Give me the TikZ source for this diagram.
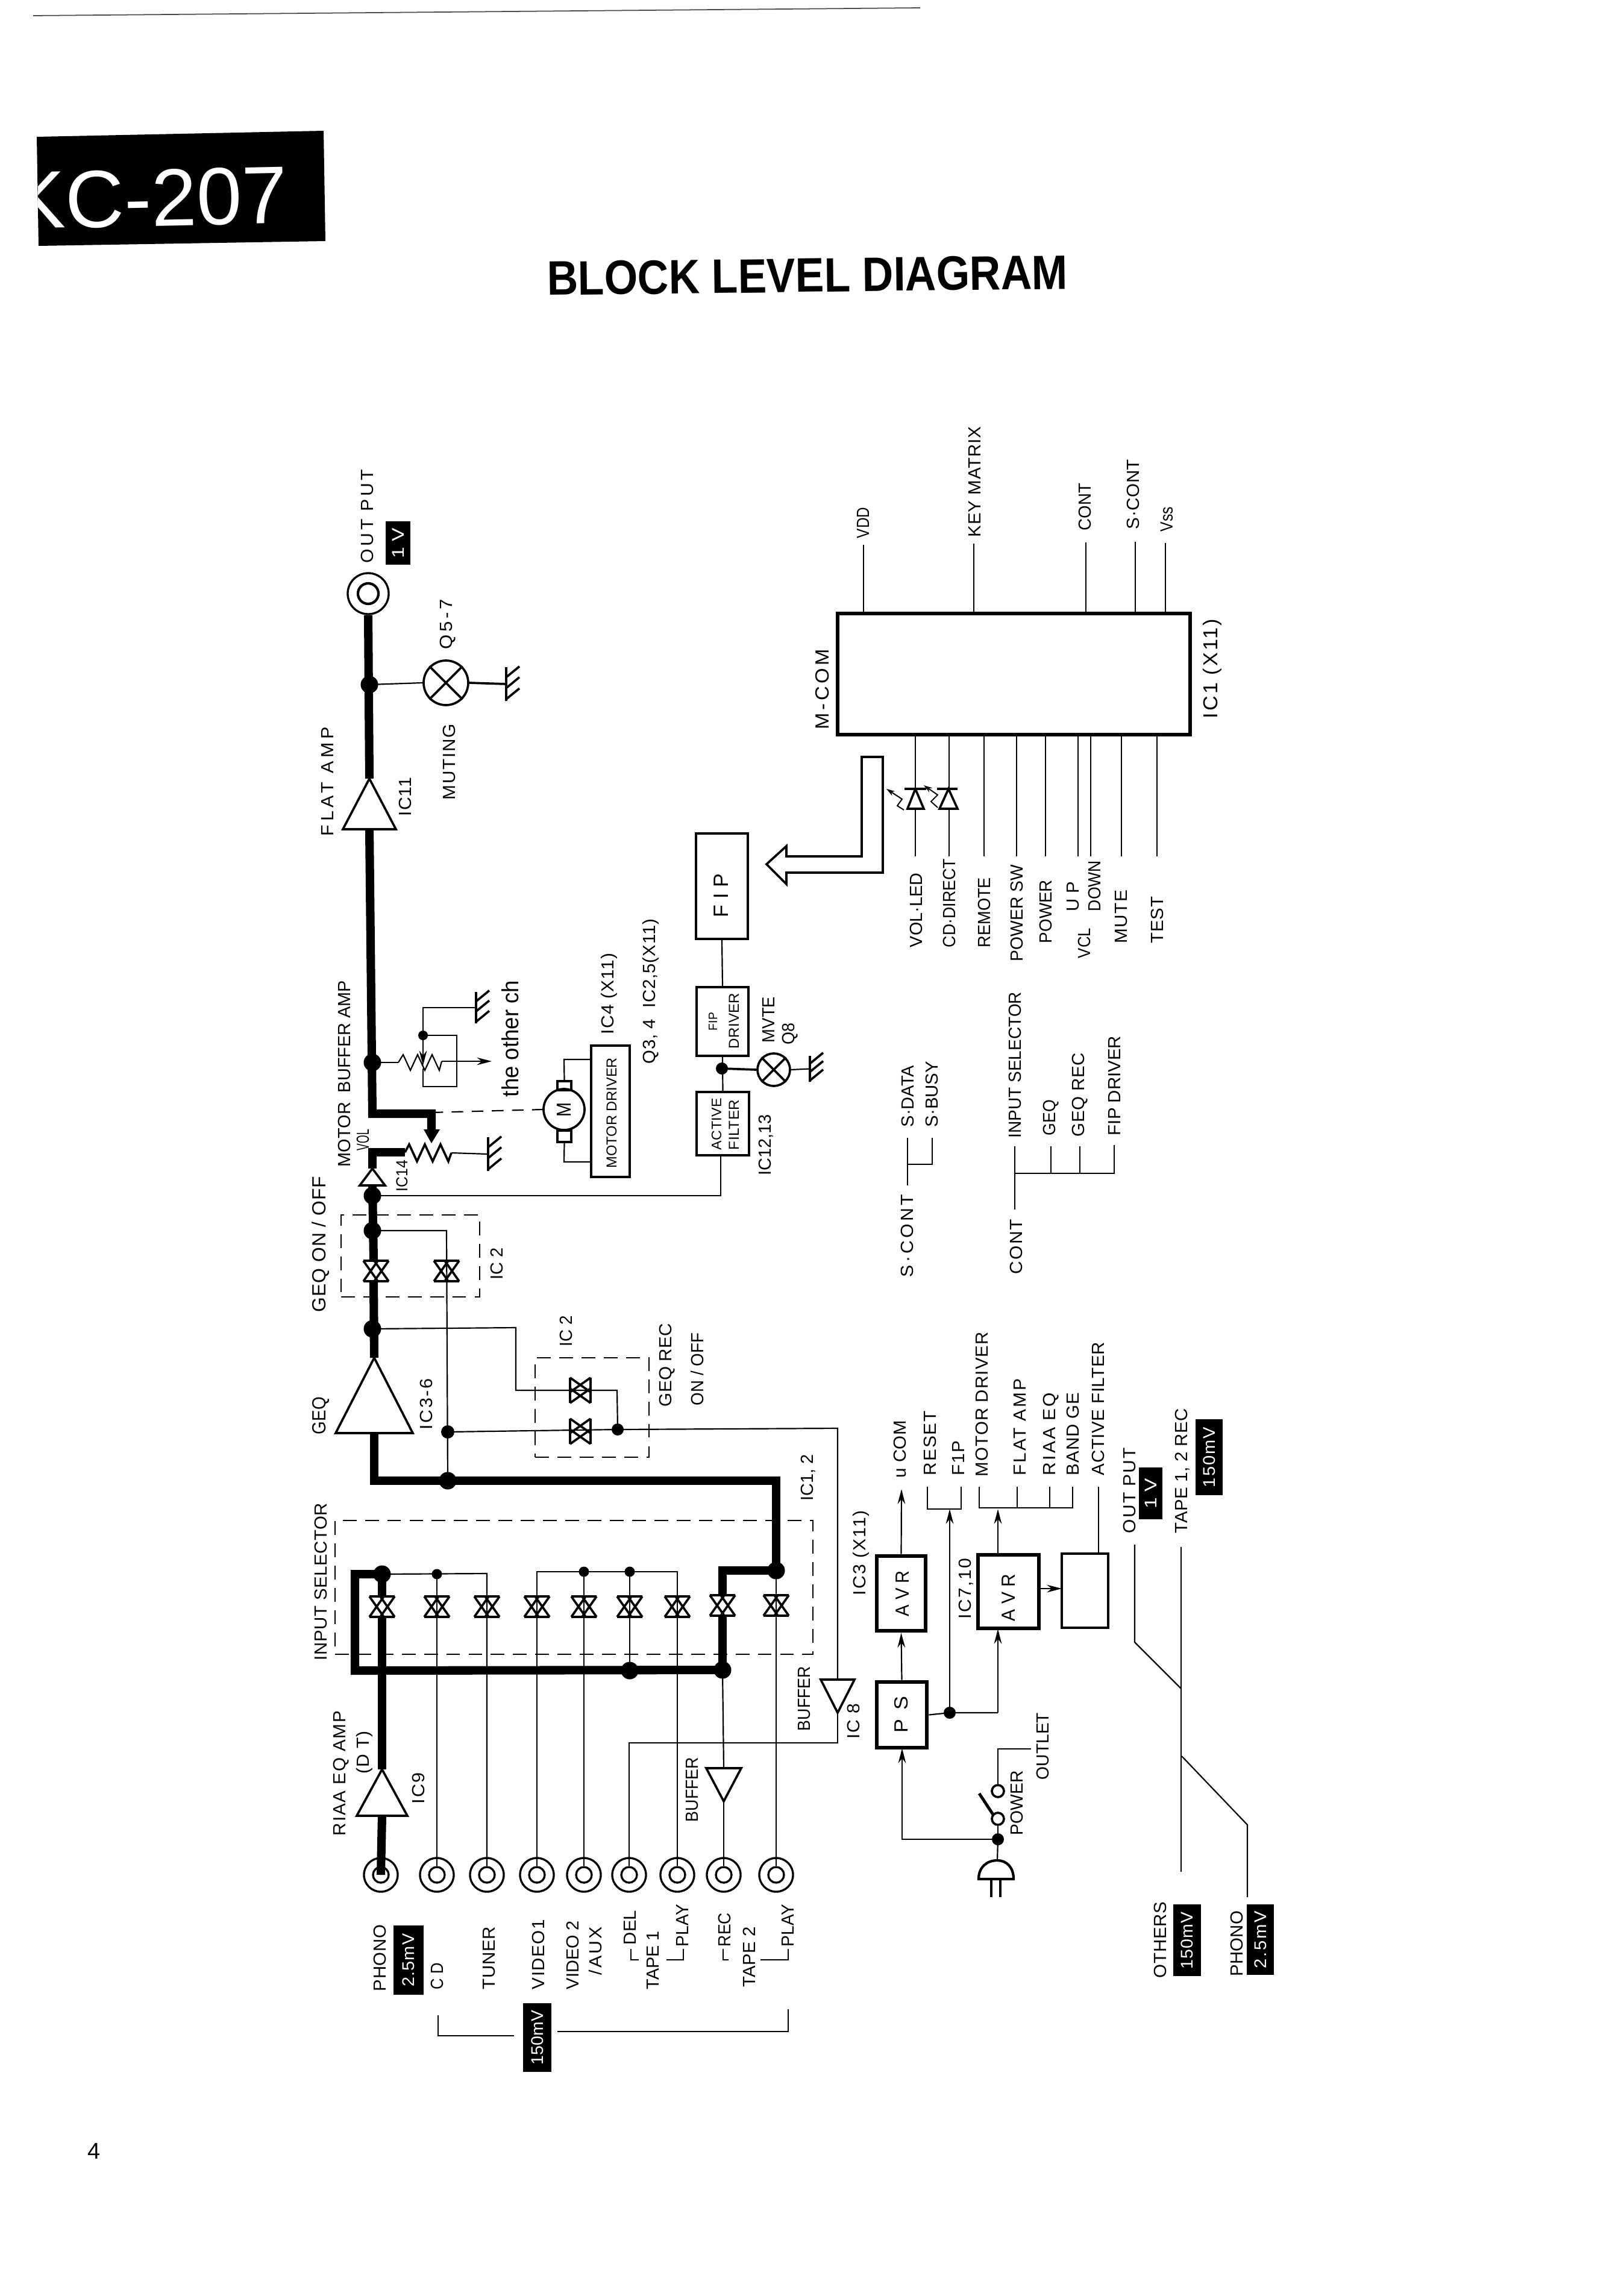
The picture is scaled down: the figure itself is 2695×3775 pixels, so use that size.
\documentclass[tikz,border=0pt]{standalone}
\usepackage{fontspec}
\setmainfont{Liberation Sans}
\usepackage{graphicx}
\usetikzlibrary{arrows.meta}
\newsavebox\fitbox
\newdimen\fitd
\newcount\chcnt
\def\countchars#1{\chcnt=0 \countloop#1\relax}
\def\countloop#1{\ifx#1\relax\else\advance\chcnt by 1 \expandafter\countloop\fi}
% text set to an exact length: tracked open when it is short, then scaled to fit
\newcommand\fittext[3]{\countchars{#3}%
 \sbox\fitbox{\fontsize{#1}{#1}\selectfont #3}\fitd=\wd\fitbox
 \pgfmathtruncatemacro\lsval{max(0,min(40,100*((#2)*0.28453-\fitd)/(\chcnt*#1)))}%
 \edef\lscmd{\noexpand\addfontfeature{LetterSpace=\lsval}}%
 \sbox\fitbox{\fontsize{#1}{#1}\selectfont\lscmd #3}\fitd=\wd\fitbox
 \pgfmathsetmacro\fitr{(#2)*0.28453/\fitd}\scalebox{\fitr}[1]{\usebox\fitbox}}
% rotated label of exact extent: [size]{name}{x}{ytop}{ybottom}{text}
\newcommand\lab[6][8.3]{\node[txt] (#2) at (#3,{(#4+#5)/2}) {\fittext{#1}{#5-#4}{#6}};}
% box: {name}{x0}{y0}{x1}{y1}{style}
\newcommand\bx[6]{\node[#6,minimum width={(#4-#2)*0.01cm},minimum height={(#5-#3)*0.01cm}] (#1) at ({(#2+#4)/2},{(#3+#5)/2}) {};}
% black level tag: {name}{x0}{y0}{x1}{y1}{text length}{text}
\newcommand\blk[7]{\node[rotate=90,fill=black,text=white,inner sep=0,minimum width={(#5-#3)*0.01cm},minimum height={(#4-#2)*0.01cm}] (#1) at ({(#2+#4)/2},{(#3+#5)/2}) {\fittext{8}{#6}{#7}};}
% amp triangle: {name}{x}{ybase}{yapex}{half width}
\newcommand\amp[5]{\coordinate (#1-in) at (#2,#3);\coordinate (#1-out) at (#2,#4);
 \draw[mid,fill=white,line join=miter] ({#2-#5},#3) -- ({#2+#5},#3) -- (#1-out) -- cycle;}
% jack
\newcommand\jack[3]{\node[jackout] (#1) at (#2,#3) {};\node[jackin] (#1-i) at (#2,#3) {};}
% transmission gate: {name}{x}{y}
\newcommand\sw[3]{\coordinate (#1-a) at (#2,{#3+19});\coordinate (#1-b) at (#2,{#3-19});\pic at (#2,#3) {tgate};}
\newcommand\lamp[4]{\node[circle,draw,mid,inner sep=0,minimum size={2*#4*0.01cm}] (#1) at (#2,#3) {};
 \draw[mid] (#1.45)--(#1.225) (#1.135)--(#1.315);}
\newcommand\gnd[4]{\coordinate (#1) at (#2,{(#3+#4)/2});
 \draw[mid] (#2,#3)--(#2,#4)
 (#2,{#3+0.3*(#4-#3)})--++(22,-18) (#2,{#3+0.62*(#4-#3)})--++(22,-18) (#2,{#3+0.95*(#4-#3)})--++(22,-18);}
\tikzset{
 txt/.style={rotate=90,inner sep=0,anchor=center},
 thinw/.style={line width=0.62pt},
 mid/.style={line width=1.05pt},
 bus/.style={line width=4pt,line join=miter},
 boxa/.style={draw,line width=1.15pt,inner sep=0},
 boxb/.style={draw,line width=1.9pt,inner sep=0},
 dashbox/.style={draw,line width=0.7pt,dash pattern=on 6.5pt off 4pt,inner sep=0},
 jackout/.style={circle,draw,line width=0.95pt,fill=white,inner sep=0,minimum size=0.56cm},
 jackin/.style={circle,draw,line width=0.95pt,inner sep=0,minimum size=0.26cm},
 bigdot/.style={circle,fill=black,inner sep=0,minimum size=0.29cm},
 smalldot/.style={circle,fill=black,inner sep=0,minimum size=0.17cm},
 arr/.style={thinw,-{Stealth[length=7pt,width=3.6pt]}},
 tgate/.pic={\draw[line width=1.05pt] (-21,-17)--(21,-17) (-21,17)--(21,17)
   (-21,-17)--(3,17) (3,-17)--(-21,17) (-3,-17)--(21,17) (21,-17)--(-3,17);}
}
\begin{document}
\begin{tikzpicture}[x=0.01cm,y=-0.01cm]
\useasboundingbox (0,0) rectangle (2695,3775);
% ---------- heading ----------
\coordinate (hA) at (55,26); \coordinate (hB) at (1527,13);
\draw[line width=0.5pt,black!70] (hA) -- (hB);
\fill[black] (61,227)--(537,217)--(540,400)--(64,408)--cycle;
\begin{scope}
 \clip (61,227)--(537,217)--(540,400)--(64,408)--cycle;
 \node[rotate=1.2,anchor=base west,inner sep=0,text=white,font=\fontsize{38.4}{40}\selectfont] (model) at (19,380) {KC-207};
\end{scope}
\node[rotate=0.7,inner sep=0,font=\fontsize{22.8}{24}\selectfont\bfseries] (title) at (1340,457) {\scalebox{0.89}[1]{BLOCK LEVEL DIAGRAM}};
\node[inner sep=0,font=\fontsize{10.8}{12}\selectfont] (page) at (156,3569) {4};
% ---------- junction coordinates ----------
\coordinate (J1) at (634,2612); \coordinate (J3) at (1199,2771); \coordinate (JB3) at (1045,2772);
\coordinate (J4) at (1288,2606); \coordinate (J5) at (743,2457); \coordinate (J6) at (743,2376);
\coordinate (J7) at (1025,2372); \coordinate (J8) at (618,2205); \coordinate (J9) at (618,2042);
\coordinate (J10) at (618,1984); \coordinate (J11) at (618,1763); \coordinate (J12) at (613,1136);
\coordinate (d2) at (725,2612); \coordinate (d5) at (969,2608); \coordinate (d6) at (1045,2608);
\coordinate (J13) at (1198,1773); \coordinate (J14) at (1576,2842); \coordinate (J15) at (1656,3052);
% ---------- thin signal lines ----------
\jack{j1}{632}{3111} \jack{j2}{725}{3111} \jack{j3}{808}{3111} \jack{j4}{891}{3111} \jack{j5}{969}{3111}
\jack{j6}{1044}{3111} \jack{j7}{1124}{3111} \jack{j8}{1201}{3111} \jack{j9}{1288}{3111}
\node[jackout,minimum size=0.68cm] (jO) at (611,985) {};
\node[jackin,minimum size=0.34cm,line width=1.2pt] (jO-i) at (611,985) {};
\amp{aB}{1390}{2787}{2842}{28}
\amp{aR}{1201}{2934}{2989}{29}
\draw[thinw] (j2-i.north) -- (d2);
\draw[thinw] (J1) -- (808,2611) -- (j3-i.north);
\draw[thinw] (j4-i.north) -- (891,2608) -- (1124,2608) -- (j7-i.north);
\draw[thinw] (j5-i.north) -- (d5);
\draw[thinw] (d6) -- (JB3);
\draw[thinw] (j6-i.north) -- (1044,2892) -- (1390,2892) -- (aB-out);
\draw[thinw] (aB-in) -- (1390,2370) -- (J7);
\draw[thinw] (j8-i.north) -- (aR-out);
\draw[thinw] (aR-in) -- (J3);
\draw[thinw] (j9-i.north) -- (J4);
\draw[thinw] (J9) -- (741,2042) -- (J5);
\draw[thinw] (J6) -- (J7) -- (1024,2307) -- (856,2307) -- (856,2203) -- (J8);
\draw[thinw] (J10) -- (1196,1984) -- (1196,1917);
% ---------- amplifiers and switches ----------
\amp{aP}{634}{3013}{2936}{42}
\amp{aG}{621}{2378}{2253}{64}
\amp{aT}{618}{1967}{1939}{21}
\amp{aF}{613}{1376}{1292}{44}
\sw{s1}{634}{2666} \sw{s2}{725}{2666} \sw{s3}{808}{2666} \sw{s4}{891}{2666} \sw{s5}{969}{2666}
\sw{s6}{1045}{2666} \sw{s7}{1124}{2666} \sw{s8}{1199}{2664} \sw{s9}{1288}{2664}
\sw{s10}{624}{2109} \sw{s11}{741}{2109}
\pic[rotate=90] at (963,2307) {tgate};
\pic[rotate=90] at (963,2375) {tgate};
% ---------- thick main path ----------
\draw[bus] (j1-i.center) -- (aP-in);
\draw[bus] (aP-out) -- (s1-a);
\draw[bus] (s1-b) -- (J1);
\draw[bus] (J1) -- (589,2612) -- (589,2772) -- (J3);
\draw[bus] (J3) -- (s8-a);
\draw[bus] (s8-b) -- (1199,2606) -- (J4) -- (1288,2457) -- (621,2457) -- (aG-in);
\draw[bus] (aG-out) -- (620,2128);
\draw[bus] (620,2090) -- (aT-in);
\draw[bus] (aT-out) -- (618,1912) -- (672,1912);
\draw[bus] (aF-in) -- (618,1848) -- (716,1848) -- (716,1876);
\draw[bus] (aF-out) -- (jO.south);
\fill (703,1874)--(730,1874)--(716,1897)--cycle;
% dots
\node[bigdot] (D1) at (J1) {}; \node[bigdot] (D3) at (J3) {}; \node[bigdot] (D3b) at (JB3) {};
\node[bigdot] (D4) at (J4) {}; \node[bigdot] (D5) at (J5) {}; \node[smalldot,minimum size=0.22cm] (D6) at (J6) {};
\node[smalldot,minimum size=0.2cm] (D7) at (J7) {}; \node[bigdot] (D8) at (J8) {}; \node[bigdot] (D9) at (J9) {};
\node[bigdot] (D10) at (J10) {}; \node[bigdot] (D11) at (J11) {}; \node[bigdot] (D12) at (J12) {};
\node[smalldot] (D2) at (d2) {}; \node[smalldot] (D13) at (d5) {}; \node[smalldot] (D14) at (d6) {};
\node[smalldot,minimum size=0.2cm] (D15) at (J13) {}; \node[smalldot,minimum size=0.2cm] (D16) at (J14) {}; \node[smalldot,minimum size=0.2cm] (D17) at (J15) {};
% dashed blocks
\bx{dsIn}{556}{2523}{1349}{2745}{dashbox}
\bx{dsG}{566}{2016}{796}{2152}{dashbox}
\bx{dsR}{888}{2253}{1077}{2418}{dashbox}
% ---------- volume, muting, motor ----------
\draw[thinw] (J11) -- (661,1763);
\draw[thinw] (661,1763)--(669,1750)--(681,1776)--(693,1750)--(705,1776)--(717,1750)--(729,1776)--(733,1761);
\coordinate (oth) at (816,1761);
\draw[arr] (733,1761) -- (oth);
\gnd{g1}{790}{1646}{1698}
\draw[thinw] (g1) -- (702,1672) -- (702,1718);
\draw[arr] (702,1718) -- (702,1768);
\draw[thinw] (702,1718) -- (758,1718) -- (758,1803) -- (702,1803) -- (702,1773);
\node[smalldot,minimum size=0.16cm] (D18) at (702,1718) {};
\draw[mid] (672,1912)--(679,1899)--(692,1927)--(705,1899)--(718,1927)--(731,1899)--(744,1927)--(749,1913);
\gnd{g2}{810}{1887}{1943}
\draw[thinw] (749,1913) -- (g2);
\node[circle,draw,mid,inner sep=0,minimum size=0.68cm] (motor) at (936,1841) {};
\draw[thinw,dash pattern=on 5.5pt off 4pt] (716,1846) -- (motor.west);
\bx{br1}{925}{1794}{948}{1809}{boxa}
\bx{br2}{925}{1876}{948}{1895}{boxa}
\bx{mdrv}{981}{1735}{1045}{1953}{boxa}
\draw[thinw] (br1.north) -- (936,1758) -- (981,1758);
\draw[thinw] (br2.south) -- (936,1928) -- (981,1928);
\lamp{l1}{740}{1133}{37}
\draw[thinw] (J12) -- (l1.west);
\gnd{g3}{840}{1107}{1163}
\draw[mid] (l1.east) -- (g3);
% ---------- FIP ----------
\bx{fip}{1155}{1383}{1241}{1558}{boxa}
\bx{fdrv}{1156}{1638}{1242}{1752}{boxa}
\bx{afil}{1156}{1812}{1243}{1917}{boxa}
\draw[thinw] (fip.south) -- (fdrv.north);
\draw[thinw] (fdrv.south) -- (afil.north);
\lamp{l2}{1284}{1775}{27}
\draw[mid] (J13) -- (l2.west);
\gnd{g4}{1344}{1752}{1795}
\draw[thinw] (l2.east) -- (g4);
\draw[mid,line join=miter] (1272,1434)--(1305,1404)--(1305,1421)--(1430,1421)--(1430,1256)--(1465,1256)--(1465,1448)--(1305,1448)--(1305,1467)--cycle;
% ---------- M-COM ----------
\bx{mcom}{1390}{1018}{1975}{1219}{boxb}
\foreach \n/\px/\py in {p1/1433/904,p2/1616/902,p3/1802/900,p4/1884/899,p5/1934/901}{
 \coordinate (\n) at (\px,\py); \draw[thinw] (\n) -- (\px,1015);}
\foreach \n/\px in {q1/1519,q2/1575,q3/1633,q4/1687,q5/1735,q6/1789,q7/1810,q8/1861,q9/1920}{
 \coordinate (\n) at (\px,1421); \draw[thinw] (\n) -- (\px,1221);}
\draw[mid] (1501,1309)--(1537,1309);
\draw[mid,fill=white,line join=miter] (1506,1342)--(1533,1342)--(1519,1309)--cycle;
\draw[mid] (1555,1309)--(1589,1309);
\draw[mid,fill=white,line join=miter] (1559,1342)--(1589,1342)--(1574,1309)--cycle;
\draw[line width=0.55pt,-{Stealth[length=4pt,width=2.5pt]}] (1500,1344)--(1489,1337)--(1497,1326)--(1471,1309);
\draw[line width=0.55pt,-{Stealth[length=4pt,width=2.5pt]}] (1556,1340)--(1545,1330)--(1556,1319)--(1533,1303);
% S-CONT / CONT trees
\coordinate (sc) at (1506,1967); \coordinate (sd) at (1506,1888); \coordinate (sb) at (1547,1888);
\draw[thinw] (sc) -- (sd); \draw[thinw] (1506,1932) -- (1547,1932) -- (sb);
\coordinate (ct) at (1684,2007); \coordinate (ci) at (1684,1902);
\draw[thinw] (ct) -- (ci); \draw[thinw] (1684,1947) -- (1849,1947) -- (1849,1900);
\draw[thinw] (1744,1947) -- (1744,1902); \draw[thinw] (1792,1947) -- (1792,1902);
% ---------- power supply ----------
\bx{avrA}{1455}{2582}{1536}{2706}{boxb}
\bx{psu}{1455}{2791}{1538}{2900}{boxb}
\bx{avrB}{1623}{2580}{1724}{2702}{boxb}
\bx{empt}{1762}{2578}{1839}{2701}{boxa}
\draw[arr] (psu.north) -- (avrA.south);
\draw[arr] (avrA.north) -- (1496,2471);
\draw[thinw] (psu.east) -- (J14) -- (1656,2842);
\draw[arr] (1656,2842) -- (1656,2703);
\draw[arr] (J14) -- (1576,2504);
\draw[arr] (1656,2580) -- (1656,2504);
\draw[arr] (1724,2636) -- (1762,2636);
\draw[thinw] (1539,2467) -- (1539,2504) -- (1595,2504) -- (1595,2467);
\draw[thinw] (1625,2467) -- (1625,2502) -- (1780,2502) -- (1780,2467);
\draw[thinw] (1688,2502) -- (1688,2467); \draw[thinw] (1742,2502) -- (1742,2467);
\draw[thinw] (1823,2578) -- (1823,2467);
\draw[arr] (J15) -- (1497,3052) -- (1497,2901);
\node[circle,draw,mid,inner sep=0,minimum size=0.2cm] (swA) at (1656,3018) {};
\node[circle,draw,mid,inner sep=0,minimum size=0.2cm] (swB) at (1656,2972) {};
\draw[thinw] (J15) -- (swA);
\draw[line width=1.4pt] (1648,3011) -- (1625,2976);
\draw[thinw] (swB) -- (1656,2902) -- (1711,2902);
\draw[thinw] (J15) -- (1655,3087);
\draw[line width=1.2pt] (1624,3118) .. controls (1624,3098) and (1638,3087) .. (1655,3087) .. controls (1670,3087) and (1682,3098) .. (1682,3118) -- cycle;
\draw[line width=1.2pt] (1645,3118) -- (1645,3148) (1660,3118) -- (1660,3148);
% level diagram
\draw[thinw] (1883,2563) -- (1883,2725) -- (1960,2802);
\draw[thinw] (1960,2567) -- (1960,3106);
\draw[thinw] (1961,2914) -- (2070,3028) -- (2070,3148);
% input brackets
\draw[thinw] (727,3344) -- (727,3378) -- (853,3378);
\draw[thinw] (925,3371) -- (1308,3371) -- (1308,3334);
\draw[thinw] (1047,3234) -- (1047,3252) -- (1060,3252);
\draw[thinw] (1106,3252) -- (1134,3252) -- (1134,3234);
\draw[thinw] (1200,3234) -- (1200,3252) -- (1209,3252);
\draw[thinw] (1262,3252) -- (1308,3252) -- (1308,3234);
% ---------- tags ----------
\blk{tO}{640}{865}{681}{937}{50}{1V}
\blk{tP}{653}{3195}{703}{3310}{88}{2.5mV}
\blk{tS}{868}{3324}{915}{3438}{90}{150mV}
\blk{tA}{1890}{2435}{1929}{2521}{50}{1V}
\blk{tB}{1984}{2355}{2029}{2481}{100}{150mV}
\blk{tC}{1947}{3160}{1993}{3279}{95}{150mV}
\blk{tD}{2069}{3160}{2114}{3277}{95}{2.5mV}
% ---------- labels ----------
\lab{a1}{609}{779}{934}{OUT PUT}
\lab{a2}{743}{994}{1077}{Q5-7}
\lab{a3}{745}{1201}{1327}{MUTING}
\lab{a4}{543}{1206}{1387}{FLAT AMP}
\lab{a5}{672}{1290}{1354}{IC11}
\lab{a6}{571}{1627}{1936}{MOTOR \ BUFFER AMP}
\lab{a7}{602}{1874}{1909}{VOL}
\lab[7.6]{a8}{667}{1925}{1977}{IC14}
\lab[9]{a9}{532}{1952}{2177}{GEQ ON / OFF}
\lab[9]{a10}{532}{2318}{2380}{GEQ}
\lab{a11}{707}{2288}{2372}{IC3-6}
\lab{a12}{824}{2070}{2123}{IC 2}
\lab{a13}{939}{2183}{2234}{IC 2}
\lab{a14}{1107}{2196}{2334}{GEQ REC}
\lab{a15}{1157}{2212}{2332}{ON / OFF}
\lab[11]{a16}{847}{1627}{1820}{the other ch}
\lab[6.8]{a17}{1015}{1755}{1938}{MOTOR DRIVER}
\lab{a18}{1011}{1582}{1716}{IC4 (X11)}
\lab{a19}{1080}{1525}{1765}{Q3, 4 \ IC2,5(X11)}
\lab[9.8]{a20}{1197}{1450}{1522}{F I P}
\lab[5.8]{a21}{1183}{1680}{1710}{FIP}
\lab[6.8]{a22}{1218}{1648}{1740}{DRIVER}
\lab[6.5]{a23}{1189}{1822}{1908}{ACTIVE}
\lab[6.8]{a24}{1218}{1825}{1908}{FILTER}
\lab{a25}{1275}{1654}{1730}{MVTE}
\lab{a26}{1311}{1697}{1733}{Q8}
\lab{a27}{1271}{1849}{1950}{IC12,13}
\lab[9]{a28}{1365}{1077}{1210}{M-COM}
\lab[9.5]{a29}{2012}{1027}{1192}{IC1 (X11)}
\lab{b1}{1432}{842}{893}{VDD}
\lab{b2}{1617}{708}{891}{KEY MATRIX}
\lab{b3}{1800}{802}{880}{CONT}
\lab{b4}{1880}{762}{878}{S·CONT}
\lab{b5}{1936}{841}{882}{Vss}
\lab{c1}{1520}{1449}{1572}{VOL·LED}
\lab{c2}{1575}{1425}{1572}{CD·DIRECT}
\lab{c3}{1633}{1456}{1572}{REMOTE}
\lab{c4}{1687}{1435}{1595}{POWER SW}
\lab{c5}{1735}{1460}{1565}{POWER}
\lab{c6}{1781}{1463}{1512}{U P}
\lab{c7}{1816}{1428}{1512}{DOWN}
\lab{c8}{1799}{1540}{1590}{VCL}
\lab{c9}{1861}{1477}{1565}{MUTE}
\lab{c10}{1920}{1488}{1565}{TEST}
\lab{e1}{1506}{1768}{1870}{S·DATA}
\lab{e2}{1546}{1761}{1870}{S·BUSY}
\lab{e3}{1505}{1982}{2119}{S·CONT}
\lab{e4}{1686}{2023}{2114}{CONT}
\lab{e5}{1684}{1646}{1888}{INPUT SELECTOR}
\lab{e6}{1744}{1825}{1884}{GEQ}
\lab{e7}{1792}{1747}{1886}{GEQ REC}
\lab{e8}{1849}{1719}{1884}{FIP DRIVER}
\lab{f1}{532}{2494}{2755}{INPUT SELECTOR}
\lab{f2}{1341}{2413}{2490}{IC1, 2}
\lab{f3}{1335}{2765}{2872}{BUFFER}
\lab{f4}{1149}{2916}{3023}{BUFFER}
\lab{f5}{1416}{2827}{2885}{IC 8}
\lab{f6}{566}{2839}{3046}{RIAA EQ AMP}
\lab{f7}{605}{2872}{2943}{(D T)}
\lab{f8}{694}{2941}{2993}{IC9}
\lab{g5}{630}{3194}{3304}{PHONO}
\lab{g6}{725}{3257}{3301}{C D}
\lab{g7}{812}{3197}{3301}{TUNER}
\lab{g8}{893}{3185}{3301}{VIDEO1}
\lab{g9}{950}{3187}{3301}{VIDEO 2}
\lab{g10}{988}{3197}{3277}{/AUX}
\lab{g11}{1045}{3170}{3227}{DEL}
\lab{g12}{1083}{3204}{3301}{TAPE 1}
\lab{g13}{1132}{3160}{3230}{PLAY}
\lab{g14}{1202}{3174}{3230}{REC}
\lab{g15}{1243}{3197}{3297}{TAPE 2}
\lab{g16}{1307}{3160}{3230}{PLAY}
\lab{h1}{1493}{2357}{2452}{u COM}
\lab{h2}{1543}{2341}{2448}{RESET}
\lab{h3}{1590}{2391}{2448}{F1P}
\lab{h4}{1629}{2210}{2450}{MOTOR DRIVER}
\lab{h5}{1692}{2288}{2448}{FLAT AMP}
\lab{h6}{1744}{2311}{2448}{RIAA EQ}
\lab{h7}{1780}{2311}{2448}{BAND GE}
\lab{h8}{1822}{2227}{2448}{ACTIVE FILTER}
\lab[9]{h9}{1498}{2606}{2682}{A V R}
\lab[9]{h10}{1496}{2815}{2875}{P S}
\lab[9]{h11}{1674}{2612}{2690}{A V R}
\lab{h12}{1429}{2506}{2647}{IC3 (X11)}
\lab{h13}{1603}{2586}{2686}{IC7,10}
\lab{h14}{1730}{2842}{2953}{OUTLET}
\lab{h15}{1687}{2938}{3045}{POWER}
\lab{h16}{1874}{2402}{2544}{OUT PUT}
\lab{h17}{1962}{2337}{2544}{TAPE 1, 2 REC}
\lab{h18}{1925}{3156}{3282}{OTHERS}
\lab{h19}{2052}{3171}{3279}{PHONO}
\lab[9.5]{h20}{936}{1829}{1853}{M}
\end{tikzpicture}
\end{document}
